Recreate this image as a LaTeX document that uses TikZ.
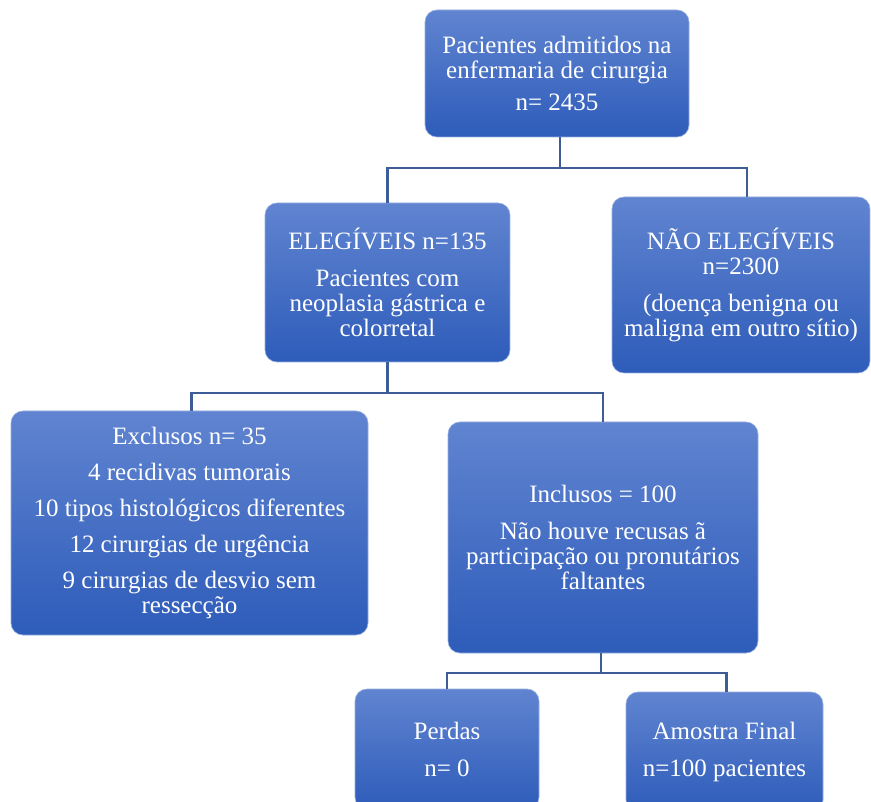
\documentclass[tikz,border=0pt]{standalone}
\usepackage{fontspec}
\setmainfont{Liberation Serif}
\definecolor{boxtop}{RGB}{96,132,208}
\definecolor{boxbot}{RGB}{46,92,186}
\definecolor{boxedge}{RGB}{150,175,225}
\definecolor{connc}{RGB}{62,92,150}
\begin{document}
\begin{tikzpicture}[x=1pt,y=-1pt,
  box/.style={rounded corners=12pt, top color=boxtop, bottom color=boxbot, draw=boxedge, line width=0.6pt, text=white, align=center, inner sep=0pt, font=\fontsize{25}{25}\selectfont},
  conn/.style={draw=connc, line width=2.2pt}]
\useasboundingbox (0,0) rectangle (871,802);
\clip (0,0) rectangle (871,802);

\node[box, minimum width=264pt, minimum height=127pt] (top) at (557,73.5)
  {Pacientes admitidos na\\ enfermaria de cirurgia\\[7pt] n= 2435};
\node[box, minimum width=245pt, minimum height=159pt] (eleg) at (387.5,282.5)
  {ELEGÍVEIS n=135\\[12pt] Pacientes com\\ neoplasia gástrica e\\ colorretal};
\node[box, minimum width=258pt, minimum height=176pt] (nao) at (741,285)
  {NÃO ELEGÍVEIS\\ n=2300\\[12pt] (doença benigna ou\\ maligna em outro sítio)};
\node[box, minimum width=357pt, minimum height=224pt] (excl) at (189.5,523)
  {Exclusos n= 35\\[11pt] 4 recidivas tumorais\\[11pt] 10 tipos histológicos diferentes\\[11pt] 12 cirurgias de urgência\\[11pt] 9 cirurgias de desvio sem\\ ressecção};
\node[box, minimum width=310pt, minimum height=231pt] (incl) at (603,537.5)
  {Inclusos = 100\\[12pt] Não houve recusas ã\\ participação ou pronutários\\ faltantes};
\node[box, minimum width=184pt, minimum height=120pt] (perd) at (447,749)
  {Perdas\\[12pt] n= 0};
\node[box, minimum width=197pt, minimum height=120pt] (amos) at (724.5,752)
  {Amostra Final\\[12pt] n=100 pacientes};

\draw[conn] ([xshift=3pt]top.south) -- ++(0,31) coordinate (j1) -| (eleg.north);
\draw[conn] (j1) -| ([xshift=6pt]nao.north);
\draw[conn] (eleg.south) -- ++(0,31) coordinate (j2) -| ([xshift=2pt]excl.north);
\draw[conn] (j2) -| (incl.north);
\draw[conn] ([xshift=-2pt]incl.south) -- ++(0,20) coordinate (j3) -| (perd.north);
\draw[conn] (j3) -| ([xshift=2pt]amos.north);
\end{tikzpicture}
\end{document}
